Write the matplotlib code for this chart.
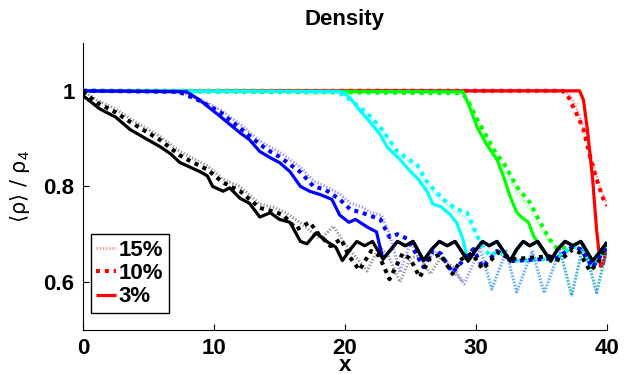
import matplotlib

matplotlib.use("Agg")
import matplotlib.pyplot as plt  # noqa: E402

plt.rcParams["font.family"] = ["Liberation Sans", "DejaVu Sans"]
plt.rcParams["mathtext.fontset"] = "custom"
plt.rcParams["mathtext.rm"] = "Liberation Sans"
plt.rcParams["mathtext.it"] = "Liberation Sans"

# shared oscillation once the front has passed (3% runs)
TAIL_X = [19.8, 20.4, 20.9, 21.5, 22.1, 22.9, 23.5, 24.0, 24.6, 25.2, 26.0, 26.6,
          27.2, 27.8, 28.4, 29.4, 30.0, 30.5, 31.0, 31.6, 32.6, 33.1, 33.6, 34.1,
          34.7, 35.7, 36.2, 36.8, 37.4, 38.0, 38.9, 39.5, 40.0]
TAIL_Y = [0.645, 0.668, 0.685, 0.676, 0.685, 0.648, 0.668, 0.685, 0.676, 0.685, 0.645, 0.668,
          0.685, 0.676, 0.685, 0.644, 0.668, 0.685, 0.676, 0.685, 0.644, 0.668, 0.685, 0.676,
          0.685, 0.644, 0.668, 0.685, 0.676, 0.685, 0.644, 0.665, 0.683]

# tail of the 10% runs
DTAIL_X = [24.0, 24.8, 26.0, 26.7, 27.3, 28.2, 29.8, 30.5, 31.6, 32.8, 36.2, 37.4, 38.0, 38.9, 40.0]
DTAIL_Y = [0.700, 0.690, 0.631, 0.665, 0.660, 0.620, 0.669, 0.631, 0.665, 0.644, 0.650, 0.675,
           0.668, 0.631, 0.675]

# zig-zag tail of the 15% runs
ZIG_X = [24.2, 25.0, 26.0, 27.0, 28.0, 29.1, 30.3, 31.2, 32.3, 33.1, 34.3, 35.2, 36.4, 37.3,
         38.2, 39.2, 40.0]
ZIG_Y = [0.620, 0.683, 0.640, 0.665, 0.630, 0.596, 0.670, 0.585, 0.665, 0.579, 0.665, 0.577,
         0.668, 0.572, 0.680, 0.578, 0.670]

# black
k_x3 = [0, 1.3, 2.5, 3.6, 4.8, 5.9, 6.7, 7.4, 8.2, 9.0, 9.5, 9.9, 10.7, 11.2, 12.0, 12.7, 13.5,
        14.3, 15.0, 15.8, 16.6, 17.1, 17.8, 18.6, 19.3]
k_y3 = [0.99, 0.962, 0.945, 0.919, 0.90, 0.883, 0.868, 0.850, 0.840, 0.830, 0.822, 0.80, 0.79,
        0.797, 0.775, 0.765, 0.736, 0.745, 0.731, 0.725, 0.685, 0.680, 0.703, 0.685, 0.673]
k_x10 = [0, 1.1, 2.5, 3.6, 4.8, 5.9, 7.4, 8.2, 9.5, 10.7, 12.0, 13.5, 14.5, 15.3, 16.3, 17.3,
         18.0, 18.9, 19.7, 20.3, 21.1, 22.0, 22.6, 23.4, 24.4, 25.0, 25.7, 26.5, 27.3, 28.2,
         28.9, 29.7, 30.5, 31.7, 32.8, 35.6, 36.4, 37.4, 37.9, 38.7, 39.3, 40.0]
k_y10 = [0.998, 0.975, 0.955, 0.935, 0.915, 0.897, 0.865, 0.853, 0.835, 0.808, 0.79, 0.755,
         0.748, 0.74, 0.71, 0.725, 0.70, 0.675, 0.69, 0.655, 0.625, 0.665, 0.655, 0.606, 0.66,
         0.648, 0.61, 0.65, 0.658, 0.617, 0.648, 0.66, 0.627, 0.662, 0.648, 0.654, 0.645,
         0.669, 0.662, 0.623, 0.64, 0.683]
k_x15 = [0, 1.1, 2.5, 3.6, 4.8, 5.9, 7.4, 8.2, 9.5, 10.7, 12.0, 13.5, 14.5, 15.5, 16.3, 17.0,
         18.1, 18.7, 19.1, 20.0, 20.9, 21.7, 22.6, 23.3, 24.2, 25.0, 25.7, 26.5, 27.3, 28.3, 29.0]
k_y15 = [1.0, 0.98, 0.962, 0.942, 0.922, 0.905, 0.873, 0.862, 0.843, 0.815, 0.80, 0.763, 0.757,
         0.745, 0.73, 0.715, 0.69, 0.705, 0.717, 0.68, 0.65, 0.623, 0.675, 0.655, 0.60, 0.65,
         0.655, 0.617, 0.65, 0.63, 0.60]

# blue
b_x3 = [0, 7.9, 8.9, 10.5, 12.0, 12.7, 13.5, 14.3, 15.0, 15.8, 16.6, 17.3, 18.1, 19.0, 19.6,
        20.3, 20.8, 21.7, 22.4]
b_y3 = [1.0, 0.998, 0.981, 0.946, 0.912, 0.898, 0.873, 0.860, 0.850, 0.831, 0.80, 0.790, 0.783,
        0.773, 0.740, 0.725, 0.731, 0.715, 0.705]
b_x10 = [0, 7.3, 8.0, 9.0, 10.5, 12.0, 13.5, 14.3, 15.0, 16.6, 17.6, 18.5, 19.6, 20.4, 21.3,
         22.7, 23.4]
b_y10 = [1.0, 0.998, 0.99, 0.978, 0.955, 0.922, 0.888, 0.873, 0.862, 0.83, 0.80, 0.793, 0.773,
         0.752, 0.745, 0.731, 0.694]
b_x15 = [0, 7.2, 8.0, 9.0, 10.5, 12.0, 13.5, 15.0, 16.6, 17.6, 18.5, 19.6, 20.4, 21.3, 22.0,
         22.8, 23.4]
b_y15 = [1.0, 0.998, 0.992, 0.982, 0.96, 0.93, 0.895, 0.872, 0.84, 0.812, 0.80, 0.785, 0.765,
         0.757, 0.745, 0.74, 0.70]

# cyan
c_x3 = [0, 19.8, 20.4, 21.1, 21.9, 22.7, 23.2, 24.2, 25.0, 25.6, 26.3, 26.7, 27.3, 28.0, 28.5,
        29.0]
c_y3 = [1.0, 0.998, 0.985, 0.96, 0.935, 0.908, 0.883, 0.856, 0.831, 0.815, 0.788, 0.763, 0.758,
        0.742, 0.725, 0.69]
c_x10 = [0, 19.3, 20.0, 21.0, 22.0, 23.0, 24.0, 25.5, 26.3, 27.5, 28.5, 29.3, 30.1, 30.6, 31.1]
c_y10 = [1.0, 0.998, 0.99, 0.968, 0.945, 0.913, 0.873, 0.845, 0.808, 0.773, 0.752, 0.746,
         0.696, 0.67, 0.654]
c_x15 = [0, 19.5, 20.2, 21.0, 22.0, 23.0, 24.0, 25.5, 26.3, 27.5, 28.5, 29.3, 30.0, 30.5]
c_y15 = [1.0, 0.998, 0.99, 0.965, 0.94, 0.91, 0.868, 0.84, 0.80, 0.768, 0.745, 0.735, 0.70, 0.67]

# green
g_x3 = [0, 29.0, 29.5, 30.1, 30.8, 31.6, 32.1, 32.6, 33.1, 33.5, 34.0, 34.4, 34.7, 35.3]
g_y3 = [1.0, 0.998, 0.967, 0.923, 0.888, 0.856, 0.821, 0.779, 0.746, 0.735, 0.725, 0.696,
        0.683, 0.66]
g_x10 = [0, 28.8, 29.3, 30.0, 30.8, 31.5, 32.1, 33.1, 34.1, 34.9, 35.6, 36.2]
g_y10 = [1.0, 0.995, 0.985, 0.945, 0.905, 0.87, 0.85, 0.80, 0.767, 0.725, 0.69, 0.669]
g_x15 = [0, 28.9, 29.4, 30.1, 30.8, 31.5, 32.1, 33.1, 34.1, 34.9, 35.6, 36.4]
g_y15 = [1.0, 0.997, 0.98, 0.94, 0.90, 0.865, 0.84, 0.79, 0.755, 0.715, 0.685, 0.668]

# red
r_x3 = [0, 37.9, 38.2, 38.5, 38.9, 39.2, 39.5, 39.7, 40.0]
r_y3 = [1.0, 1.0, 0.981, 0.919, 0.815, 0.71, 0.633, 0.637, 0.675]
r_x10 = [0, 36.6, 37.0, 37.4, 37.8, 38.2, 38.7, 39.2, 39.8, 40.0]
r_y10 = [1.0, 1.0, 0.99, 0.967, 0.945, 0.919, 0.863, 0.815, 0.767, 0.76]
r_x15 = [0, 36.8, 37.3, 37.8, 38.3, 38.8, 39.3, 39.8, 40.0]
r_y15 = [1.0, 1.0, 0.985, 0.955, 0.915, 0.86, 0.81, 0.775, 0.765]


def join(xs, ys, tx, ty):
    """Append the tail points that lie beyond the end of the front."""
    xs, ys = list(xs), list(ys)
    for a, b in zip(tx, ty):
        if a > xs[-1]:
            xs.append(a)
            ys.append(b)
    return xs, ys


SOLID = dict(lw=2.3, ls="-", solid_capstyle="butt", solid_joinstyle="round")
DOT10 = dict(lw=2.9, ls=(0, (1.0, 1.2)), dash_capstyle="butt")
DOT15 = dict(lw=2.2, ls=(0, (0.45, 0.6)), dash_capstyle="butt", alpha=0.4)

runs = [
    ("#ff0000", (r_x15, r_y15, None, None), (r_x10, r_y10, None, None), (r_x3, r_y3, None, None)),
    ("#00ff00", (g_x15, g_y15, ZIG_X, ZIG_Y), (g_x10, g_y10, DTAIL_X, DTAIL_Y), (g_x3, g_y3, TAIL_X, TAIL_Y)),
    ("#00ffff", (c_x15, c_y15, ZIG_X, ZIG_Y), (c_x10, c_y10, DTAIL_X, DTAIL_Y), (c_x3, c_y3, TAIL_X, TAIL_Y)),
    ("#0000ff", (b_x15, b_y15, ZIG_X, ZIG_Y), (b_x10, b_y10, DTAIL_X, DTAIL_Y), (b_x3, b_y3, TAIL_X, TAIL_Y)),
    ("#000000", (k_x15, k_y15, None, None), (k_x10, k_y10, None, None), (k_x3, k_y3, TAIL_X, TAIL_Y)),
]

fig = plt.figure(figsize=(6.33, 3.74), dpi=100)
ax = fig.add_axes([0.131, 0.118, 0.828, 0.767])

z = 2
for color, fine, dot, sol in runs:
    for (xs, ys, tx, ty), style in ((fine, DOT15), (dot, DOT10), (sol, SOLID)):
        if tx is not None:
            xs, ys = join(xs, ys, tx, ty)
        ax.plot(xs, ys, color=color, zorder=z, **style)
        z += 1

ax.set_xlim(0, 40)
ax.set_ylim(0.5, 1.1)
ax.set_xticks([0, 10, 20, 30, 40])
ax.set_yticks([0.6, 0.8, 1.0])
ax.set_yticklabels(["0.6", "0.8", "1"])
ax.tick_params(direction="in", length=4, width=0.8, labelsize=16, pad=6)
for lab in ax.get_xticklabels() + ax.get_yticklabels():
    lab.set_fontweight("bold")
ax.spines[["top", "right"]].set_visible(False)

ax.set_title("Density", fontsize=16, fontweight="bold", pad=13)
ax.set_xlabel("x", fontsize=16, fontweight="bold", labelpad=-3)
ax.set_ylabel("⟨ρ⟩ / ρ$_4$", fontsize=15, labelpad=8, family=["DejaVu Sans"])

h15, = ax.plot([], [], color="#ff0000", **DOT15)
h10, = ax.plot([], [], color="#ff0000", **DOT10)
h3, = ax.plot([], [], color="#ff0000", **SOLID)
leg = ax.legend([h15, h10, h3], ["15%", "10%", "3%"], loc="lower left",
                bbox_to_anchor=(0.015, 0.059), borderaxespad=0, fancybox=False,
                edgecolor="black", framealpha=1, handlelength=0.9, handletextpad=0.1,
                labelspacing=0.1, borderpad=0.25,
                prop=dict(size=16, weight="bold"))
leg.get_frame().set_linewidth(1.0)
leg.set_zorder(50)

fig.savefig("out.png", dpi=100)
